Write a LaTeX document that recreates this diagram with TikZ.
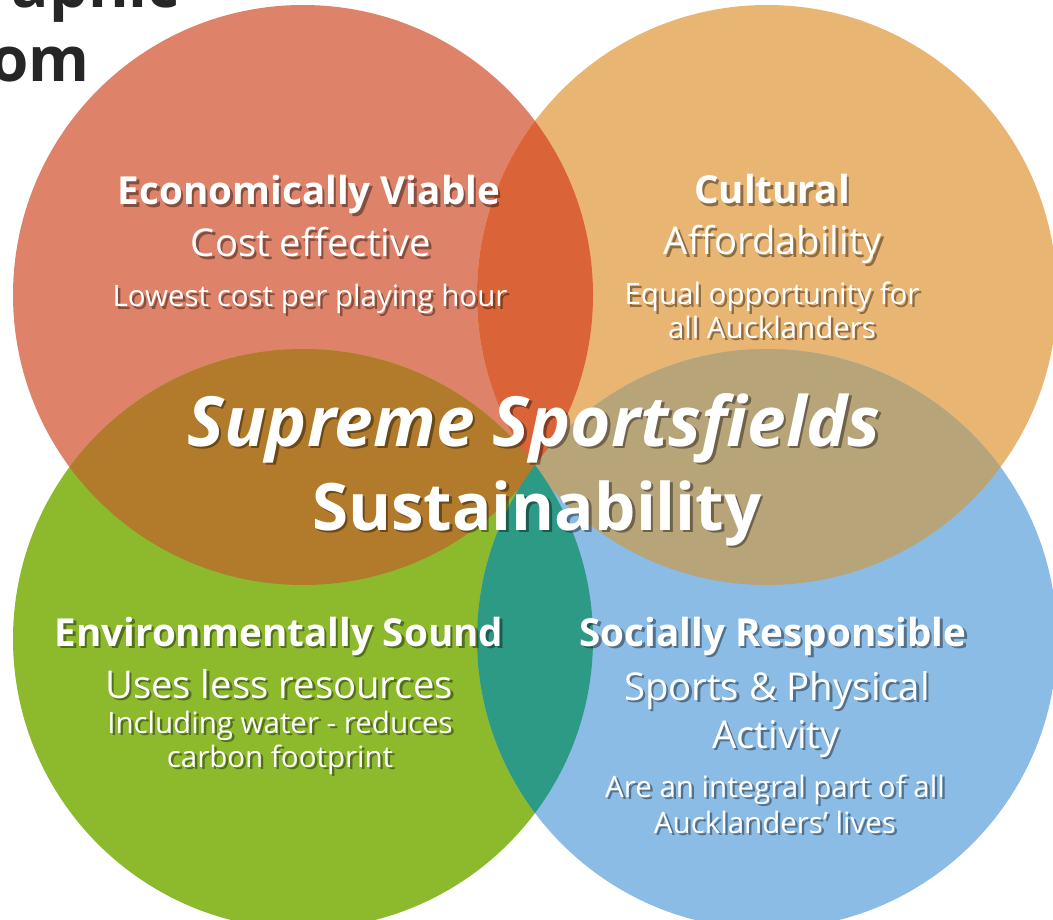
\documentclass[tikz,border=0pt]{standalone}
\usepackage{fontspec}
\setmainfont{Open Sans}

\definecolor{econ}{HTML}{DE836A}
\definecolor{cult}{HTML}{E9B573}
\definecolor{envi}{HTML}{8DB92D}
\definecolor{soci}{HTML}{8BBCE6}
\definecolor{econcult}{HTML}{DA6438}
\definecolor{econenvi}{HTML}{B27A2B}
\definecolor{cultsoci}{HTML}{B8A479}
\definecolor{envisoci}{HTML}{2D9A86}

\tikzset{
    lbl/.style={inner sep=0pt, anchor=base},
    heading/.style={lbl, font=\bfseries\fontsize{38.6}{44}\selectfont},
    subhead/.style={lbl, font=\fontsize{38.3}{42}\selectfont},
    note/.style={lbl, font=\fontsize{29.5}{34}\selectfont},
    motto/.style={lbl, font=\bfseries\fontsize{65.5}{72}\selectfont},
    masthead/.style={lbl, anchor=base east, font=\bfseries\fontsize{62}{68}\selectfont, text=black!85},
}
\def\rad{290}

\begin{document}
\begin{tikzpicture}[x=1pt,y=-1pt]
    \useasboundingbox (0,0) rectangle (1053,920);
    \clip (0,0) rectangle (1053,920);

    % circle centres
    \coordinate (econ) at (303,295);
    \coordinate (cult) at (767,295);
    \coordinate (envi) at (303,639);
    \coordinate (soci) at (767,639);

    % heading cut by the page edge
    \node[masthead] (graphic) at (180,8) {Graphic};
    \node[masthead] (om) at (90,82) {om};

    % circles
    \fill[econ] (econ) circle (\rad);
    \fill[cult] (cult) circle (\rad);
    \fill[envi] (envi) circle (\rad);
    \fill[soci] (soci) circle (\rad);

    % overlaps
    \begin{scope}
        \clip (econ) circle (\rad);
        \fill[econcult] (cult) circle (\rad);
    \end{scope}
    \begin{scope}
        \clip (cult) circle (\rad);
        \fill[cultsoci] (soci) circle (\rad);
    \end{scope}
    \begin{scope}
        \clip (econ) circle (\rad);
        \fill[econenvi] (envi) circle (\rad);
    \end{scope}
    \begin{scope}
        \clip (envi) circle (\rad);
        \fill[envisoci] (soci) circle (\rad);
    \end{scope}

    % labels, shadow first then white
    \foreach \sh/\tc/\op in {2.5/black/0.4, 0/white/1} {
    \begin{scope}[shift={(\sh,\sh)}, every node/.append style={text=\tc, text opacity=\op}]
        % economic
        \node[heading] (econT) at (309,205) {Economically Viable};
        \node[subhead] (econS) at (311,257) {Cost effective};
        \node[note] (econN) at (310,307) {Lowest cost per playing hour};

        % cultural
        \node[heading] (cultT) at (772,204) {Cultural};
        \node[subhead] (cultS) at (773,255) {Affordability};
        \node[note] (cultN1) at (772,305) {Equal opportunity for};
        \node[note] (cultN2) at (772,338) {all Aucklanders};

        % environmental
        \node[heading] (enviT) at (279,646) {Environmentally Sound};
        \node[subhead] (enviS) at (279,698) {Uses less resources};
        \node[note] (enviN1) at (280,733) {Including water - reduces};
        \node[note] (enviN2) at (280,767) {carbon footprint};

        % social
        \node[heading] (sociT) at (773,646) {Socially Responsible};
        \node[subhead] (sociS1) at (777,700) {Sports \& Physical};
        \node[subhead] (sociS2) at (776,748) {Activity};
        \node[note] (sociN1) at (775,797) {Are an integral part of all};
        \node[note] (sociN2) at (775,833) {Aucklanders’ lives};

        % centre
        \node[motto, font=\bfseries\itshape\fontsize{69.3}{76}\selectfont] (supreme) at (534,446) {Supreme Sportsfields};
        \node[motto] (sustain) at (537,530) {Sustainability};
    \end{scope}
    }
\end{tikzpicture}
\end{document}
